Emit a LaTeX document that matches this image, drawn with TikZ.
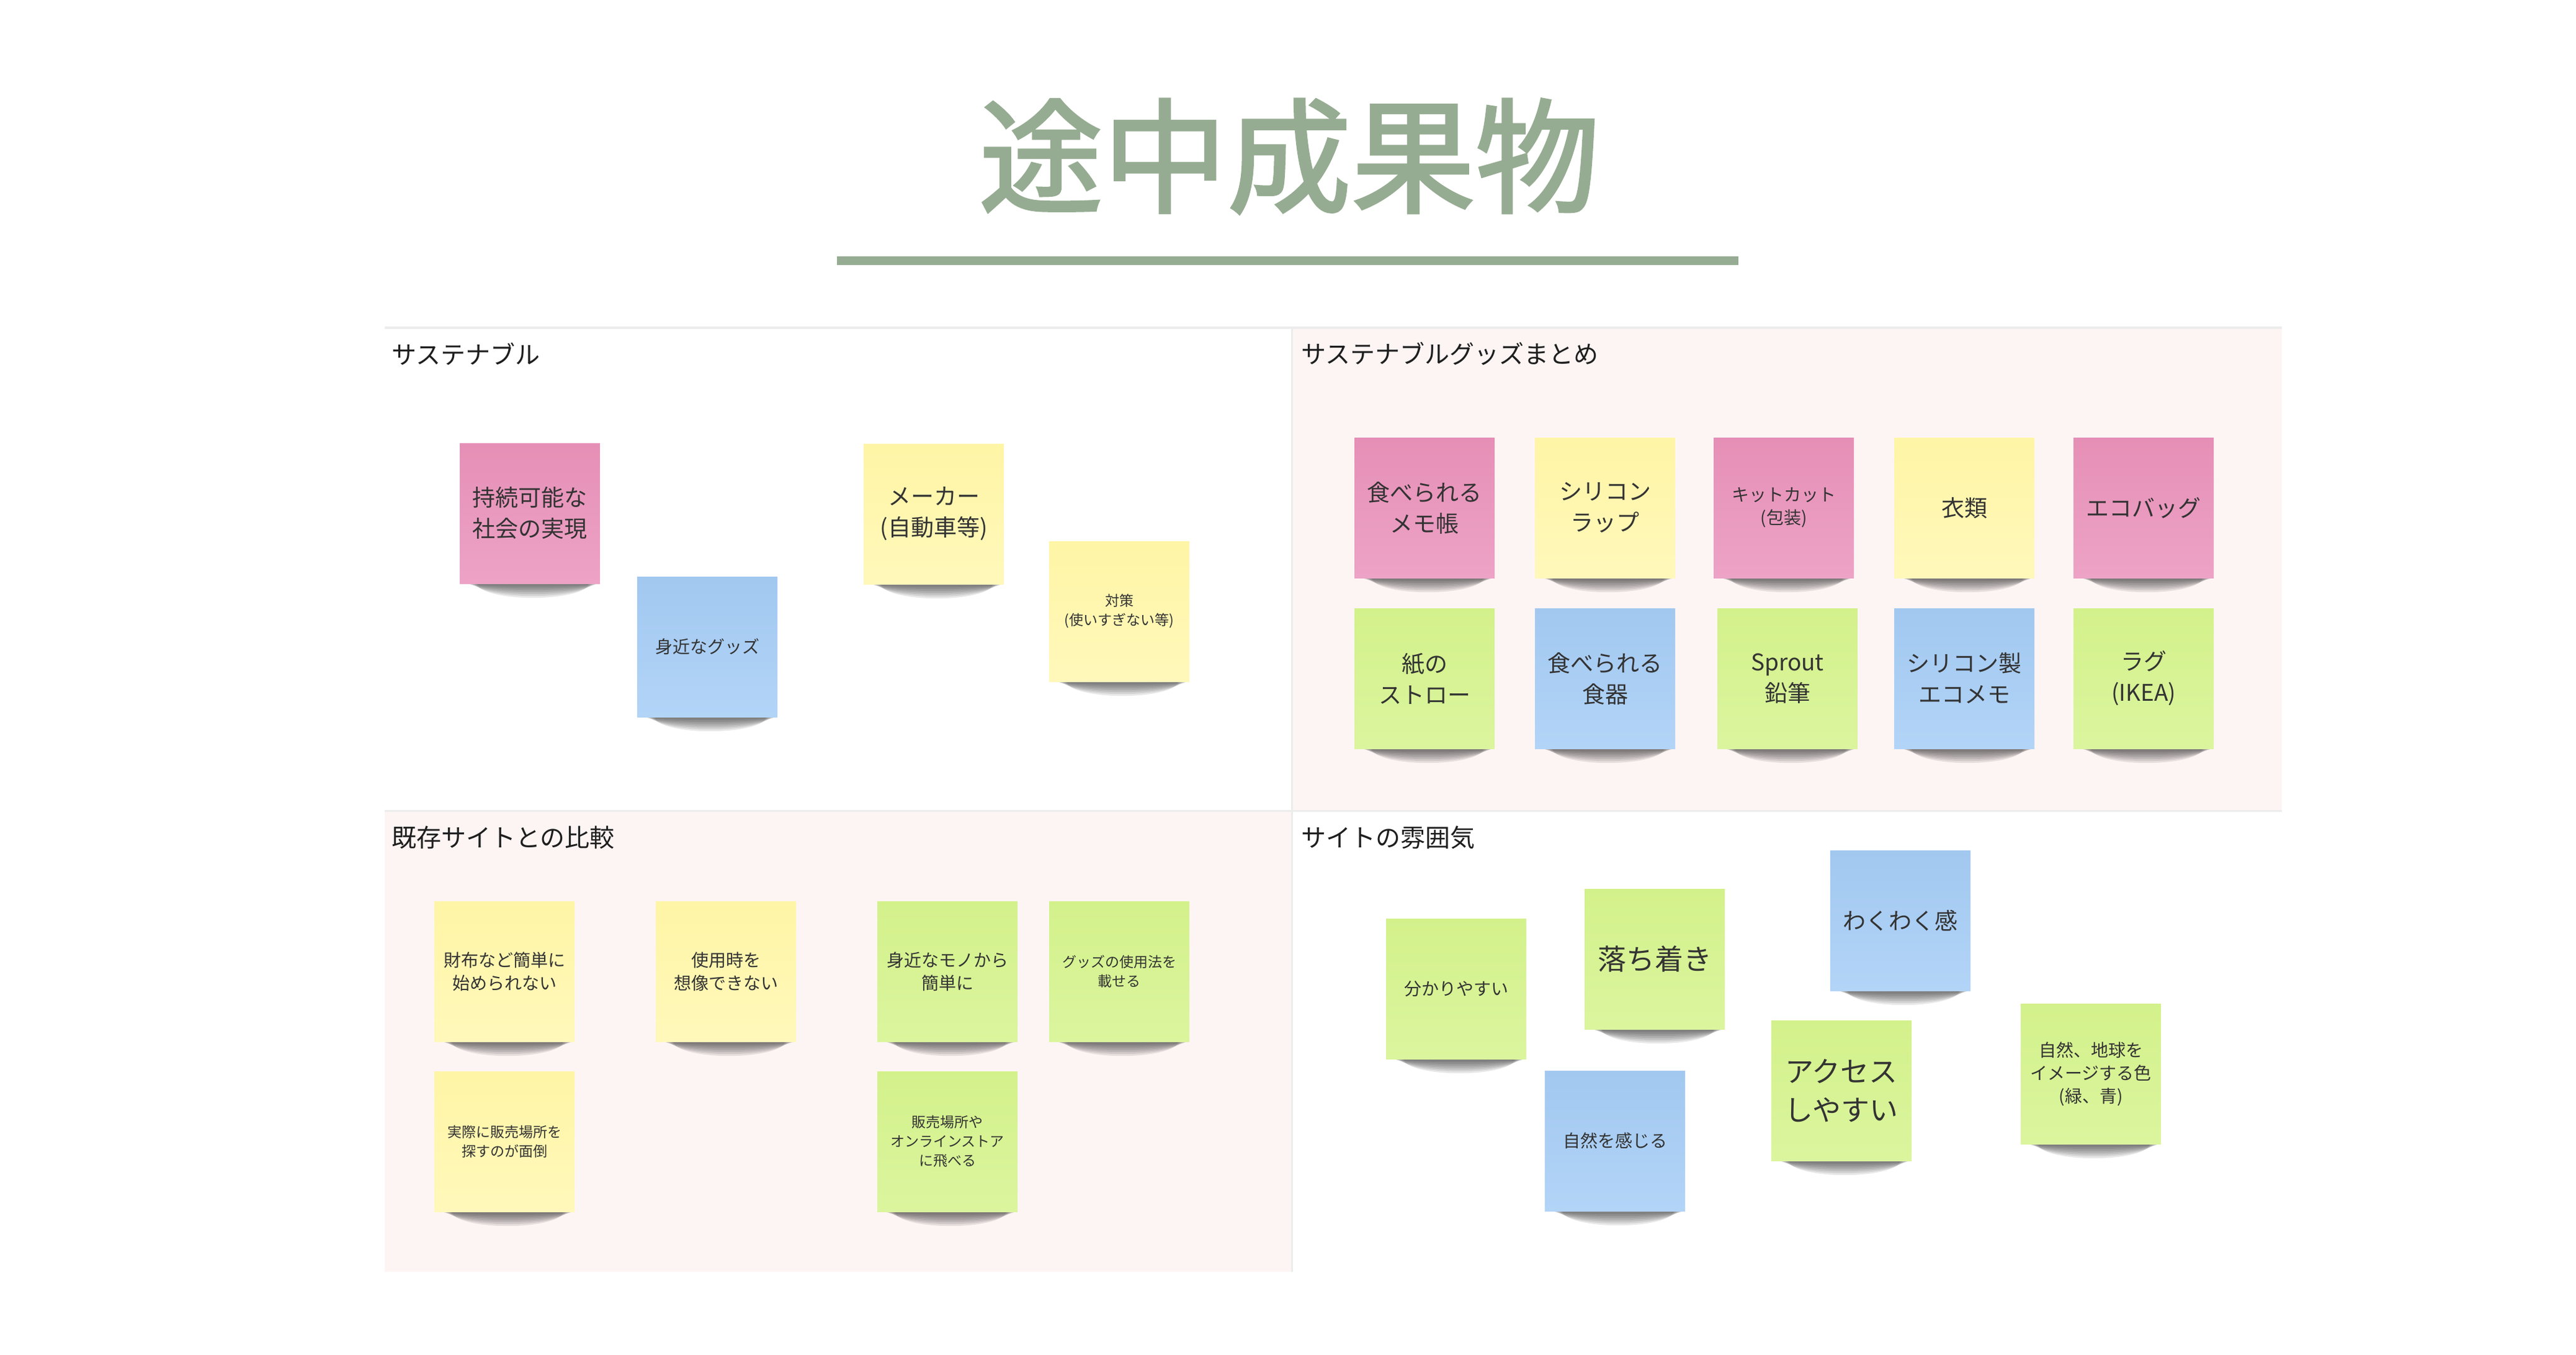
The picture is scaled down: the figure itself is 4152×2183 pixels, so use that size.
\documentclass[tikz,border=0pt]{standalone}
\usepackage{fontspec}
\setmainfont{Noto Sans CJK JP}
\newfontfamily\titlefont[FakeBold=2]{Noto Sans CJK JP}
\usetikzlibrary{calc}

\definecolor{titlegreen}{HTML}{96AC92}
\definecolor{boardpink}{HTML}{FDF5F4}
\definecolor{boardline}{HTML}{ECECEC}
\definecolor{headtext}{HTML}{1E1E1E}
\definecolor{notetext}{HTML}{333333}
\definecolor{pinkhi}{HTML}{E68FB6}
\definecolor{pinklo}{HTML}{EDA3C6}
\definecolor{yellowhi}{HTML}{FFF5A6}
\definecolor{yellowlo}{HTML}{FFF8BA}
\definecolor{bluehi}{HTML}{A2C8F0}
\definecolor{bluelo}{HTML}{B2D4F7}
\definecolor{greenhi}{HTML}{D3F18B}
\definecolor{greenlo}{HTML}{DBF59E}

\pgfdeclarelayer{board}
\pgfdeclarelayer{shade}
\pgfsetlayers{board,shade,main}

\tikzset{
    note/.style={minimum width=226pt, minimum height=226pt, inner sep=0pt,
        text width=214pt, align=center, text=notetext},
    pinknote/.style={note, top color=pinkhi, bottom color=pinklo},
    yellownote/.style={note, top color=yellowhi, bottom color=yellowlo},
    bluenote/.style={note, top color=bluehi, bottom color=bluelo},
    greennote/.style={note, top color=greenhi, bottom color=greenlo},
    txtbig/.style={font=\fontsize{37}{50}\selectfont},
    txtmid/.style={font=\fontsize{28}{37}\selectfont},
    txtsmall/.style={font=\fontsize{23}{31}\selectfont},
    txthuge/.style={font=\fontsize{46}{62}\selectfont},
    head/.style={anchor=west, inner sep=0pt, text=headtext,
        font=\fontsize{40}{48}\selectfont}
}

\begin{document}
\begin{tikzpicture}[x=1pt, y=-1pt]
        \useasboundingbox (0,0) rectangle (4152,2183);

        % title
        \draw (2078,252) node[text=titlegreen, font=\titlefont\fontsize{200}{240}\selectfont](tt){途中成果物};
        \draw[titlegreen, line width=14pt] (1349,420) -- (2802,420);

        % board
        \begin{pgfonlayer}{board}
            \fill[white]     ( 620, 527) rectangle (2082,1306);
            \fill[boardpink] (2082, 527) rectangle (3678,1306);
            \fill[boardpink] ( 620,1306) rectangle (2082,2049);
            \fill[white]     (2082,1306) rectangle (3678,2049);
            \draw[boardline, line width=4pt] (620,528) -- (3678,528);
            \draw[boardline, line width=3pt] (2082,527) -- (2082,2049);
            \draw[boardline, line width=3pt] (620,1306) -- (3678,1306);
        \end{pgfonlayer}

        \draw ( 631, 570) node[head](h1){サステナブル};
        \draw (2097, 570) node[head](h2){サステナブルグッズまとめ};
        \draw ( 631,1349) node[head](h3){既存サイトとの比較};
        \draw (2097,1349) node[head](h4){サイトの雰囲気};

        % top left
        \draw ( 854, 827) node[pinknote,  txtbig  ](s1){持続可能な\\社会の実現};
        \draw (1140,1042) node[bluenote,  txtmid  ](s2){身近なグッズ};
        \draw (1505, 828) node[yellownote,txtbig  ](s3){メーカー\\(自動車等)};
        \draw (1804, 985) node[yellownote,txtsmall](s4){対策\\(使いすぎない等)};

        % top right
        \draw (2296, 818) node[pinknote,  txtbig](g1){食べられる\\メモ帳};
        \draw (2587, 818) node[yellownote,txtbig](g2){シリコン\\ラップ};
        \draw (2875, 818) node[pinknote,  txtmid](g3){キットカット\\(包装)};
        \draw (3166, 818) node[yellownote,txtbig](g4){衣類};
        \draw (3455, 818) node[pinknote,  txtbig](g5){エコバッグ};
        \draw (2296,1093) node[greennote, txtbig](g6){紙の\\ストロー};
        \draw (2587,1093) node[bluenote,  txtbig](g7){食べられる\\食器};
        \draw (2881,1093) node[greennote, txtbig](g8){Sprout\\鉛筆};
        \draw (3166,1093) node[bluenote,  txtbig](g9){シリコン製\\エコメモ};
        \draw (3455,1093) node[greennote, txtbig](g10){ラグ\\(IKEA)};

        % bottom left
        \draw ( 813,1565) node[yellownote,txtmid  ](c1){財布など簡単に\\始められない};
        \draw (1170,1565) node[yellownote,txtmid  ](c2){使用時を\\想像できない};
        \draw (1527,1565) node[greennote, txtmid  ](c3){身近なモノから\\簡単に};
        \draw (1804,1565) node[greennote, txtsmall](c4){グッズの使用法を\\載せる};
        \draw ( 813,1839) node[yellownote,txtsmall](c5){実際に販売場所を\\探すのが面倒};
        \draw (1527,1839) node[greennote, txtsmall](c6){販売場所や\\オンラインストア\\に飛べる};

        % bottom right
        \draw (2347,1593) node[greennote,txtmid ](a1){分かりやすい};
        \draw (2667,1545) node[greennote,txthuge](a2){落ち着き};
        \draw (3063,1483) node[bluenote, txtbig ](a3){わくわく感};
        \draw (2603,1838) node[bluenote, txtmid ](a4){自然を感じる};
        \draw (2968,1757) node[greennote,txthuge](a5){アクセス\\しやすい};
        \draw (3370,1730) node[greennote,txtmid ](a6){自然、地球を\\イメージする色\\(緑、青)};

        % shadows
        \begin{pgfonlayer}{shade}
            \foreach \n in {s1,s2,s3,s4,g1,g2,g3,g4,g5,g6,g7,g8,g9,g10,c1,c2,c3,c4,c5,c6,a1,a2,a3,a4,a5,a6}
                \foreach \k in {1,...,7}
                    \fill[black, opacity=0.09] ($(\n.south)+(5,0)$) ellipse [x radius={107-2.5*\k}, y radius={2+3*\k}];
        \end{pgfonlayer}
    \end{tikzpicture}
\end{document}
